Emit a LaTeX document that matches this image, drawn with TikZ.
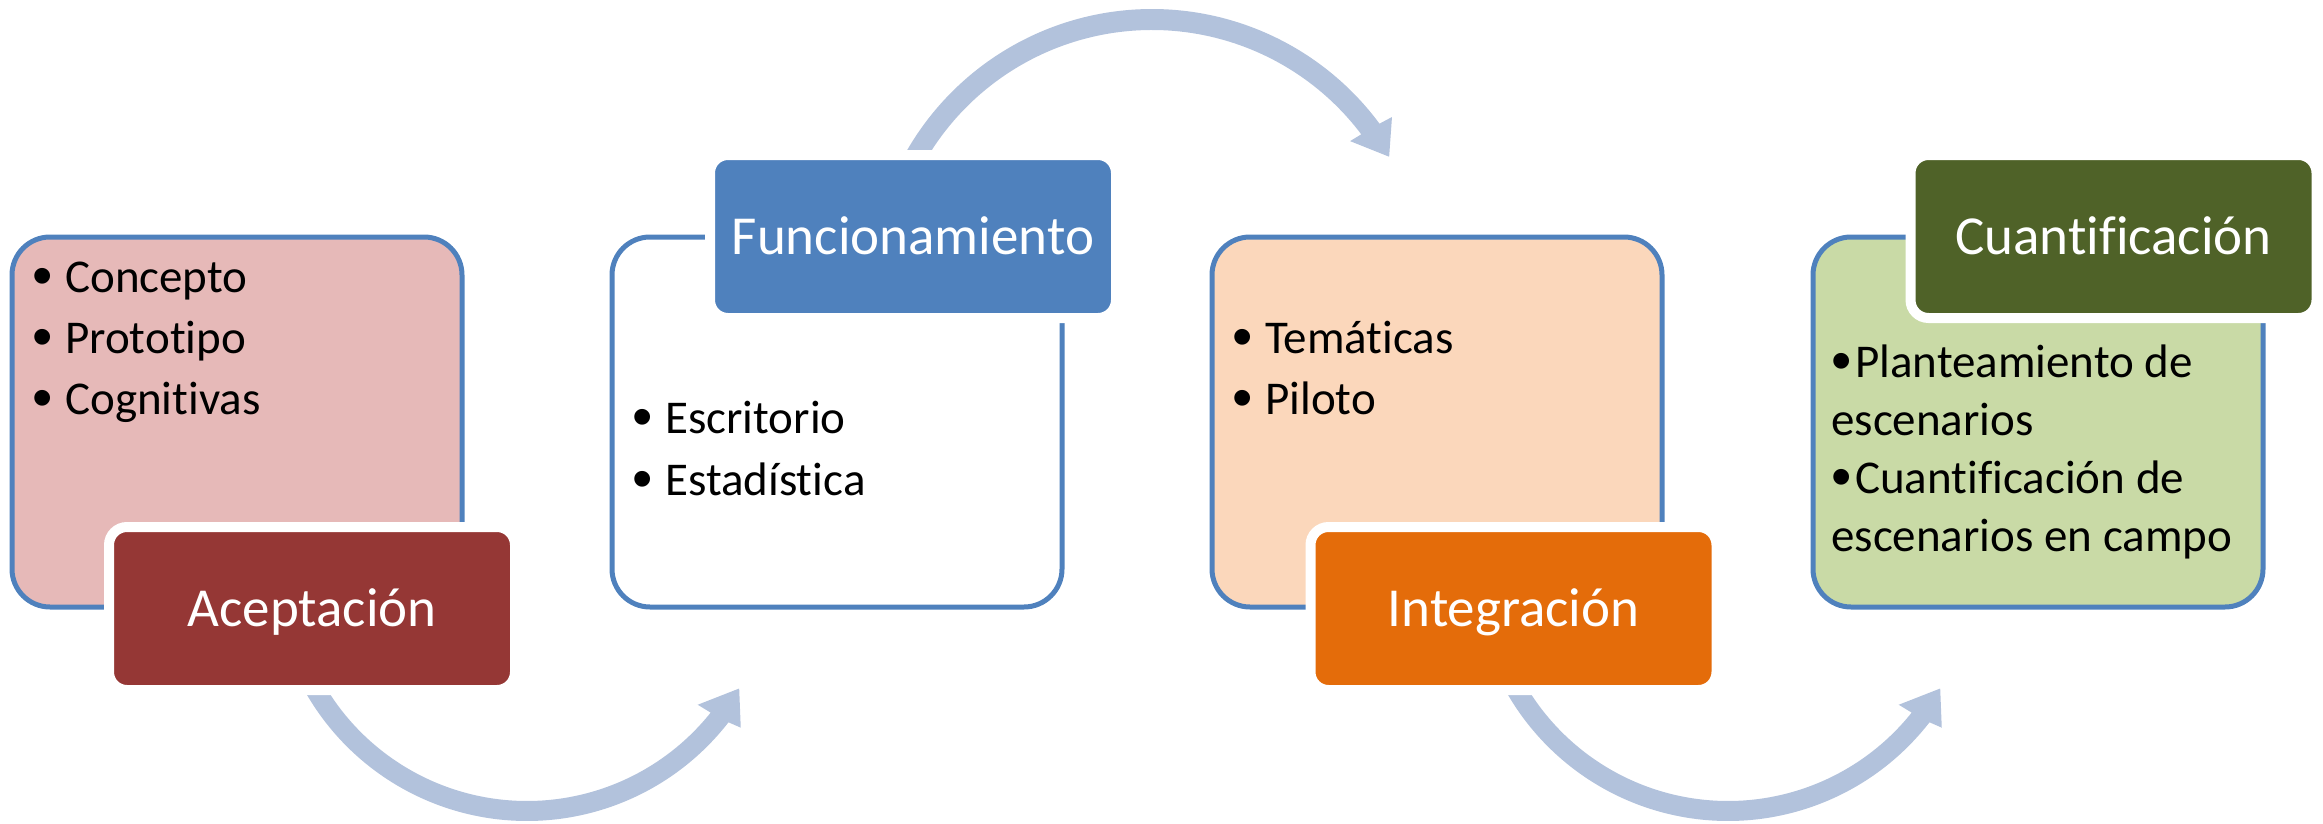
\documentclass[tikz,border=0pt]{standalone}
\usepackage{fontspec}
\setmainfont{Carlito}[Ligatures={NoCommon}, RawFeature={-liga}]
\newfontfamily\bulletfont{Liberation Sans}
\usetikzlibrary{calc}
\definecolor{boxline}{HTML}{4F81BD}
\definecolor{pinkfill}{HTML}{E6B9B8}
\definecolor{peachfill}{HTML}{FBD7BB}
\definecolor{greenfill}{HTML}{C9DAA6}
\definecolor{labred}{HTML}{953735}
\definecolor{labblue}{HTML}{4F81BD}
\definecolor{laborange}{HTML}{E46C0A}
\definecolor{labgreen}{HTML}{4F6228}
\definecolor{arrowc}{HTML}{B2C2DC}
\newcommand\bigbul{\raisebox{-3pt}{\bulletfont\fontsize{58}{58}\selectfont •}}
\newcommand\blt{\makebox[32pt][l]{\hspace{-1pt}\bigbul}}
\newcommand\bltb{\makebox[24pt][l]{\bigbul}}
\newcommand\botarrow[1]{\fill[arrowfill] ($(#1)+(150.4:255)$) arc[start angle=150.4,end angle=37.8,radius=255] -- ($(#1)+(37.1:268)$) -- ($(#1)+(30:245)$) -- ($(#1)+(39.1:220)$) -- ($(#1)+(38.6:235)$) arc[start angle=38.6,end angle=147.6,radius=235] -- cycle;}
\begin{document}
\begin{tikzpicture}[x=1pt,y=-1pt,
  box/.style={draw=boxline, line width=5pt, rounded corners=38pt, minimum width=450pt, minimum height=370pt, inner sep=0pt},
  lab/.style={draw=white, line width=10pt, rounded corners=18pt, minimum width=406pt, minimum height=163pt, inner sep=0pt, text=white, font=\fontsize{55}{66}\selectfont, text height=35pt, text depth=0pt},
  body/.style={anchor=base west, inner sep=0pt},
  arrowfill/.style={fill=arrowc}]
\useasboundingbox (0,0) rectangle (2323,824);
% arrows
\coordinate (c1) at (527,566);
\coordinate (c2) at (1152,292);
\coordinate (c3) at (1728,566);
\botarrow{c1}
\botarrow{c3}
\fill[arrowfill] ($(c2)+(209.2:283)$) arc[start angle=209.2,end angle=323.5,radius=283] -- ($(c2)+(323.9:297)$) -- ($(c2)+(330.3:273)$) -- ($(c2)+(322.7:249)$) -- ($(c2)+(323.0:262)$) arc[start angle=323.0,end angle=211.75,radius=262] -- cycle;
% content boxes
\node[box, fill=pinkfill] (b1) at (237,422) {};
\node[box, fill=white] (b2) at (837,422) {};
\node[box, fill=peachfill] (b3) at (1437,422) {};
\node[box, fill=greenfill] (b4) at (2038,422) {};
% body texts
\node[body] (t1) at (33,292) {\parbox[t]{420pt}{\fontsize{47}{61}\selectfont\blt Concepto\\\blt Prototipo\\\blt Cognitivas}};
\node[body] (t2) at (633,433) {\parbox[t]{420pt}{\fontsize{47}{62}\selectfont\blt Escritorio\\\blt Estadística}};
\node[body] (t3) at (1233,353) {\parbox[t]{420pt}{\fontsize{47}{61}\selectfont\blt Temáticas\\\blt Piloto}};
\node[body] (t4) at (1831,377) {\parbox[t]{430pt}{\fontsize{47}{58.3}\selectfont\bltb Planteamiento de\\escenarios\\\bltb Cuantificación de\\escenarios en campo}};
% labels
\node[lab, fill=labred] (l1) at (312,608.5) {Aceptación};
\node[lab, fill=labblue] (l2) at (913,236.5) {Funcionamiento};
\node[lab, fill=laborange] (l3) at (1513.5,608.5) {Integración};
\node[lab, fill=labgreen] (l4) at (2113.5,236.5) {Cuantificación};
\end{tikzpicture}
\end{document}
